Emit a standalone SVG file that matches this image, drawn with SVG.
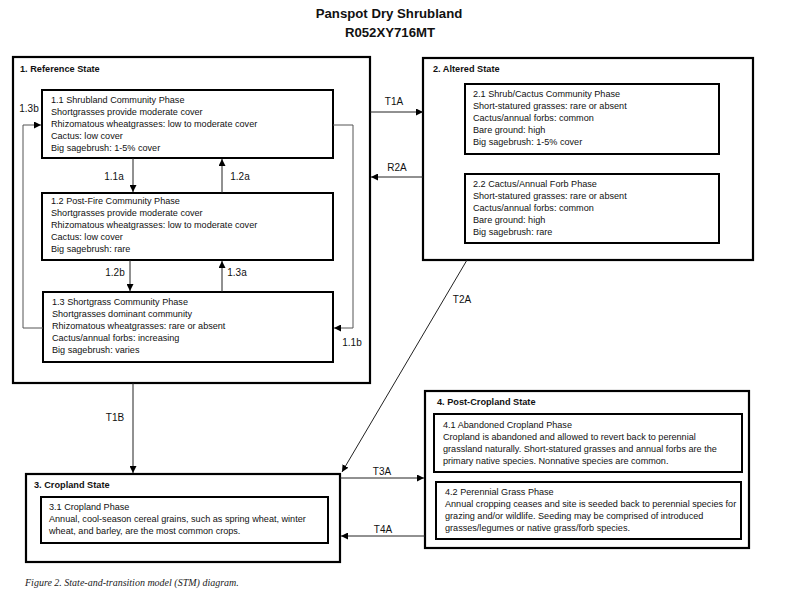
<svg xmlns="http://www.w3.org/2000/svg" width="800" height="600" viewBox="0 0 800 600">
<style>
.bg{fill:#fff}
.state{fill:#fff;stroke:#000;stroke-width:2.2}
.phase{fill:#fff;stroke:#000;stroke-width:2}
.title{font-family:"Liberation Sans",Arial,sans-serif;font-weight:bold;font-size:13.2px;fill:#111;text-anchor:middle}
.sl{font-family:"Liberation Sans",Arial,sans-serif;font-weight:bold;font-size:9.2px;fill:#111}
.pt{font-family:"Liberation Sans",Arial,sans-serif;font-size:9.1px;fill:#111}
.tl{font-family:"Liberation Sans",Arial,sans-serif;font-size:10px;fill:#111;text-anchor:middle}
.cap{font-family:"Liberation Serif","Times New Roman",serif;font-style:italic;font-size:10px;fill:#222}
.con{fill:none;stroke:#222;stroke-width:1;marker-end:url(#ah)}
.loop{fill:none;stroke:#555;stroke-width:1;marker-end:url(#ah)}
</style>
<defs>
<marker id="ah" viewBox="0 0 10 10" refX="10" refY="5" markerWidth="7" markerHeight="7" markerUnits="userSpaceOnUse" orient="auto">
<path d="M0,0 L10,5 L0,10 z" fill="#000"/>
</marker>
</defs>
<rect class="bg" x="0" y="0" width="800" height="600"/>
<text class="title" x="389" y="18">Panspot Dry Shrubland</text>
<text class="title" x="390" y="37">R052XY716MT</text>

<g id="state1">
<rect class="state" x="13" y="57" width="357" height="326"/>
<text class="sl" x="20" y="72">1. Reference State</text>
</g>
<g id="phase1-1">
<rect class="phase" x="42" y="90" width="291" height="68"/>
<text class="pt" x="51" y="103">1.1 Shrubland Community Phase</text>
<text class="pt" x="51" y="115">Shortgrasses provide moderate cover</text>
<text class="pt" x="51" y="127">Rhizomatous wheatgrasses: low to moderate cover</text>
<text class="pt" x="51" y="139">Cactus: low cover</text>
<text class="pt" x="51" y="151">Big sagebrush: 1-5% cover</text>
</g>
<g id="phase1-2">
<rect class="phase" x="42" y="193" width="291" height="67"/>
<text class="pt" x="51" y="204">1.2 Post-Fire Community Phase</text>
<text class="pt" x="51" y="216">Shortgrasses provide moderate cover</text>
<text class="pt" x="51" y="228">Rhizomatous wheatgrasses: low to moderate cover</text>
<text class="pt" x="51" y="240">Cactus: low cover</text>
<text class="pt" x="51" y="252">Big sagebrush: rare</text>
</g>
<g id="phase1-3">
<rect class="phase" x="43" y="292" width="290" height="70"/>
<text class="pt" x="52" y="305">1.3 Shortgrass Community Phase</text>
<text class="pt" x="52" y="317">Shortgrasses dominant community</text>
<text class="pt" x="52" y="329">Rhizomatous wheatgrasses: rare or absent</text>
<text class="pt" x="52" y="341">Cactus/annual forbs: increasing</text>
<text class="pt" x="52" y="353">Big sagebrush: varies</text>
</g>

<g id="state2">
<rect class="state" x="423" y="58" width="330" height="202"/>
<text class="sl" x="433" y="72">2. Altered State</text>
</g>
<g id="phase2-1">
<rect class="phase" x="465" y="84" width="254" height="70"/>
<text class="pt" x="473" y="97">2.1 Shrub/Cactus Community Phase</text>
<text class="pt" x="473" y="109">Short-statured grasses: rare or absent</text>
<text class="pt" x="473" y="121">Cactus/annual forbs: common</text>
<text class="pt" x="473" y="133">Bare ground: high</text>
<text class="pt" x="473" y="145">Big sagebrush: 1-5% cover</text>
</g>
<g id="phase2-2">
<rect class="phase" x="465" y="174" width="254" height="69"/>
<text class="pt" x="473" y="187">2.2 Cactus/Annual Forb Phase</text>
<text class="pt" x="473" y="199">Short-statured grasses: rare or absent</text>
<text class="pt" x="473" y="211">Cactus/annual forbs: common</text>
<text class="pt" x="473" y="223">Bare ground: high</text>
<text class="pt" x="473" y="235">Big sagebrush: rare</text>
</g>

<g id="state3">
<rect class="state" x="26" y="474" width="314" height="88"/>
<text class="sl" x="34" y="488">3. Cropland State</text>
</g>
<g id="phase3-1">
<rect class="phase" x="41" y="497" width="287" height="46"/>
<text class="pt" x="49" y="510">3.1 Cropland Phase</text>
<text class="pt" x="49" y="522">Annual, cool-season cereal grains, such as spring wheat, winter</text>
<text class="pt" x="49" y="534">wheat, and barley, are the most common crops.</text>
</g>

<g id="state4">
<rect class="state" x="425" y="391" width="324" height="157"/>
<text class="sl" x="437" y="405">4. Post-Cropland  State</text>
</g>
<g id="phase4-1">
<rect class="phase" x="434" y="414" width="308" height="58"/>
<text class="pt" x="443" y="428">4.1 Abandoned Cropland Phase</text>
<text class="pt" x="443" y="440">Cropland is abandoned and allowed to revert back to perennial</text>
<text class="pt" x="443" y="452">grassland naturally. Short-statured grasses and annual forbs are the</text>
<text class="pt" x="443" y="464">primary native species. Nonnative species are common.</text>
</g>
<g id="phase4-2">
<rect class="phase" x="436" y="482" width="305" height="57"/>
<text class="pt" x="445" y="495">4.2 Perennial Grass Phase</text>
<text class="pt" x="445" y="507">Annual cropping ceases and site is seeded back to perennial species for</text>
<text class="pt" x="445" y="519">grazing and/or wildlife. Seeding may be comprised of introduced</text>
<text class="pt" x="445" y="531">grasses/legumes or native grass/forb species.</text>
</g>

<g id="connectors">
<line class="con" x1="370" y1="112" x2="423" y2="112"/>
<line class="con" x1="423" y1="177" x2="371" y2="177"/>
<line class="con" x1="133" y1="158" x2="133" y2="192"/>
<line class="con" x1="222" y1="193" x2="222" y2="159"/>
<line class="con" x1="130" y1="260" x2="130" y2="291"/>
<line class="con" x1="222" y1="292" x2="222" y2="261"/>
<polyline class="loop" points="43,328 23,328 23,125 41,125"/>
<polyline class="loop" points="333,125 353,125 353,328 334,328"/>
<line class="con" x1="133" y1="383" x2="133" y2="473"/>
<line class="con" x1="467" y1="260" x2="342" y2="472"/>
<line class="con" x1="340" y1="478" x2="424" y2="478"/>
<line class="con" x1="425" y1="536" x2="341" y2="536"/>
<text class="tl" x="394" y="105">T1A</text>
<text class="tl" x="397" y="171">R2A</text>
<text class="tl" x="114" y="180">1.1a</text>
<text class="tl" x="240" y="180">1.2a</text>
<text class="tl" x="115" y="276">1.2b</text>
<text class="tl" x="237" y="276">1.3a</text>
<text class="tl" x="29" y="112">1.3b</text>
<text class="tl" x="352" y="346">1.1b</text>
<text class="tl" x="462" y="303">T2A</text>
<text class="tl" x="115" y="421">T1B</text>
<text class="tl" x="382" y="475">T3A</text>
<text class="tl" x="383" y="533">T4A</text>
</g>
<text class="cap" x="25" y="586">Figure 2. State-and-transition model (STM) diagram.</text>
</svg>
